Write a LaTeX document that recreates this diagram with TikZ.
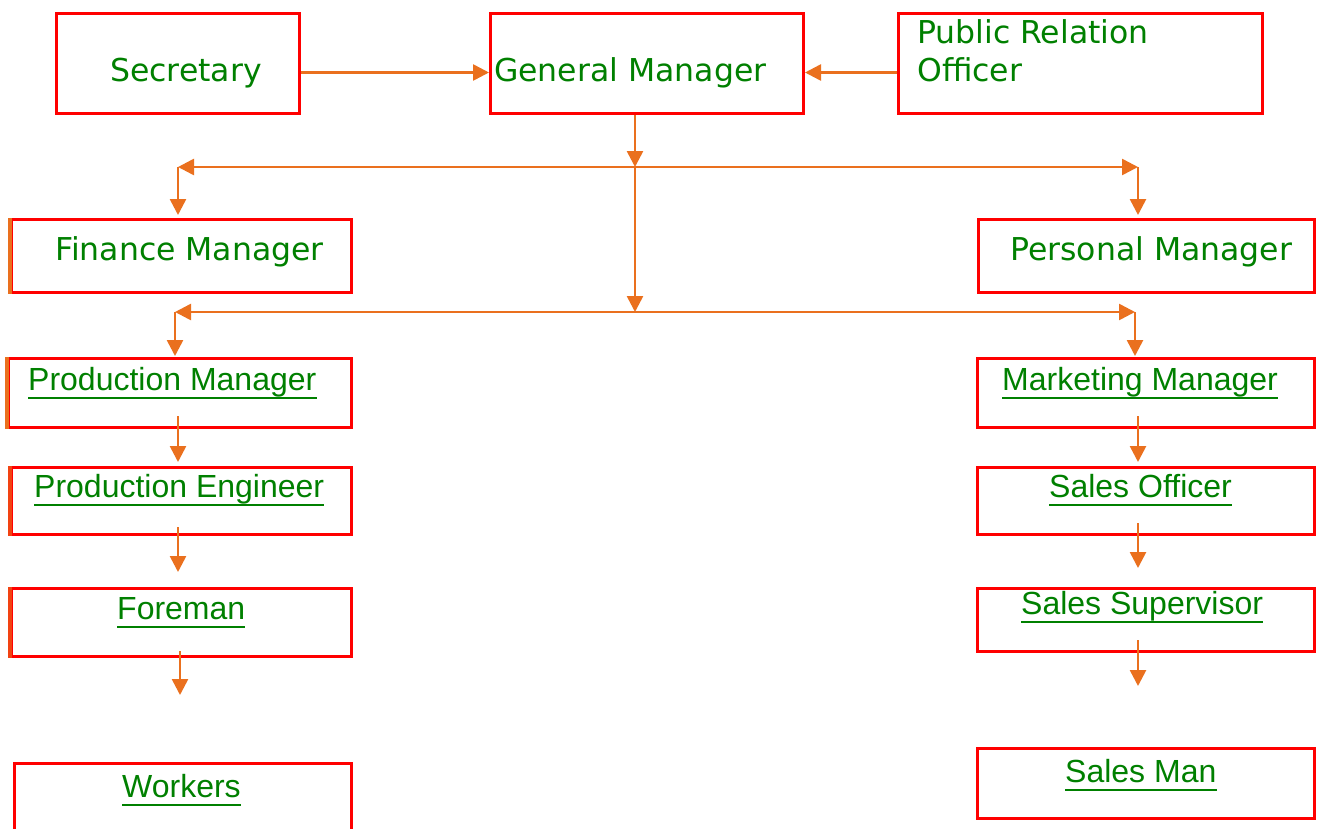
\documentclass[tikz,border=0pt]{standalone}
\usepackage{fontspec}
\setmainfont{DejaVu Sans}
\newfontfamily\arialf{Liberation Sans}
\usetikzlibrary{arrows.meta}
\definecolor{boxred}{RGB}{255,0,0}
\definecolor{linkorange}{RGB}{234,112,30}
\definecolor{txtgreen}{RGB}{0,128,0}
\begin{document}
\begin{tikzpicture}[x=1pt,y=-1pt,
  box/.style={draw=boxred,line width=3pt,rectangle,inner sep=0pt,anchor=north west},
  djt/.style={inner sep=0pt,anchor=base west,text=txtgreen,font=\fontsize{31.5}{38}\selectfont,align=left},
  art/.style={inner sep=0pt,anchor=base west,text=txtgreen,font=\arialf\fontsize{32}{38}\selectfont},
  ul/.style={draw=txtgreen,line width=2.8pt},
  link/.style={draw=linkorange,line width=2.6pt,-{Triangle[length=16pt,width=16pt]}},
  edgemark/.style={draw=linkorange,line width=3.5pt}]
\useasboundingbox (0,0) rectangle (1317,828);
\fill[white] (0,0) rectangle (1317,828);
% boxes
\node[box,minimum width=243pt,minimum height=100pt] (sec) at (55,12) {};
\node[box,minimum width=313pt,minimum height=100pt] (gm) at (489,12) {};
\node[box,minimum width=364pt,minimum height=100pt] (pro) at (897,12) {};
\node[box,minimum width=340pt,minimum height=73pt] (fin) at (10,218) {};
\node[box,minimum width=336pt,minimum height=73pt] (per) at (977,218) {};
\node[box,minimum width=343pt,minimum height=69pt] (pm) at (7,357) {};
\node[box,minimum width=340pt,minimum height=67pt] (pe) at (10,466) {};
\node[box,minimum width=340pt,minimum height=68pt] (fo) at (10,587) {};
\node[box,minimum width=337pt,minimum height=80pt] (wk) at (13,762) {};
\node[box,minimum width=337pt,minimum height=69pt] (mm) at (976,357) {};
\node[box,minimum width=337pt,minimum height=67pt] (so) at (976,466) {};
\node[box,minimum width=337pt,minimum height=63pt] (ss) at (976,587) {};
\node[box,minimum width=337pt,minimum height=70pt] (sm) at (976,747) {};
% orange marks on left edges
\draw[edgemark] (fin.north west) -- (fin.south west);
\draw[edgemark] (pm.north west) -- (pm.south west);
\draw[edgemark,draw=linkorange!60!boxred] (pe.north west) -- (pe.south west);
\draw[edgemark,draw=linkorange!60!boxred] (fo.north west) -- (fo.south west);
% texts
\node[djt] (secT) at (110,81) {Secretary};
\node[djt] (gmT) at (494,81) {General Manager};
\node[djt] (proT) at (917,43) {Public Relation};
\node[djt] (proT2) at (917,81) {Officer};
\node[djt] (finT) at (55,260) {Finance Manager};
\node[djt] (perT) at (1010,260) {Personal Manager};
\node[art] (pmT) at (28,390) {Production Manager};
\node[art] (peT) at (34,497) {Production Engineer};
\node[art] (foT) at (117,619) {Foreman};
\node[art] (wkT) at (122,797) {Workers};
\node[art] (mmT) at (1002,390) {Marketing Manager};
\node[art] (soT) at (1049,497) {Sales Officer};
\node[art] (ssT) at (1021,614) {Sales Supervisor};
\node[art] (smT) at (1065,782) {Sales Man};
% underlines
\foreach \t in {pmT,peT,foT,wkT,mmT,soT,ssT,smT}{
  \draw[ul] ([yshift=-8pt]\t.base west) -- ([yshift=-8pt]\t.base east);
}
% coordinates
\coordinate (j1) at (635,167);
\coordinate (j1L) at (178,167);
\coordinate (j1R) at (1138,167);
\coordinate (j2) at (635,312);
\coordinate (j2L) at (175,312);
\coordinate (j2R) at (1135,312);
\coordinate (foEnd) at (180,695);
\coordinate (ssEnd) at (1138,686);
% connectors
\draw[link] ([yshift=-9pt]sec.east) -- ([yshift=-9pt]gm.west);
\draw[link] ([yshift=-9pt]pro.west) -- ([yshift=-9pt]gm.east);
\draw[link] (gm.south -| j1) -- (j1);
\draw[link] (j1) -- (j1L);
\draw[link] (j1) -- (j1R);
\draw[link] (j1L) -- ([yshift=3pt]j1L |- fin.north);
\draw[link] (j1R) -- ([yshift=3pt]j1R |- per.north);
\draw[link] (j1) -- (j2);
\draw[link] (j2) -- (j2L);
\draw[link] (j2) -- (j2R);
\draw[link] (j2L) -- ([yshift=1pt]j2L |- pm.north);
\draw[link] (j2R) -- ([yshift=1pt]j2R |- mm.north);
\draw[link] ([yshift=13pt]pm.south -| j1L) -- ([yshift=4pt]j1L |- pe.north);
\draw[link] ([yshift=9pt]pe.south -| j1L) -- ([yshift=15pt]j1L |- fo.north);
\draw[link] ([yshift=7pt]fo.south -| foEnd) -- (foEnd);
\draw[link] ([yshift=13pt]mm.south -| j1R) -- ([yshift=4pt]j1R |- so.north);
\draw[link] ([yshift=13pt]so.south -| j1R) -- ([yshift=19pt]j1R |- ss.north);
\draw[link] ([yshift=13pt]ss.south -| ssEnd) -- (ssEnd);
\end{tikzpicture}
\end{document}
